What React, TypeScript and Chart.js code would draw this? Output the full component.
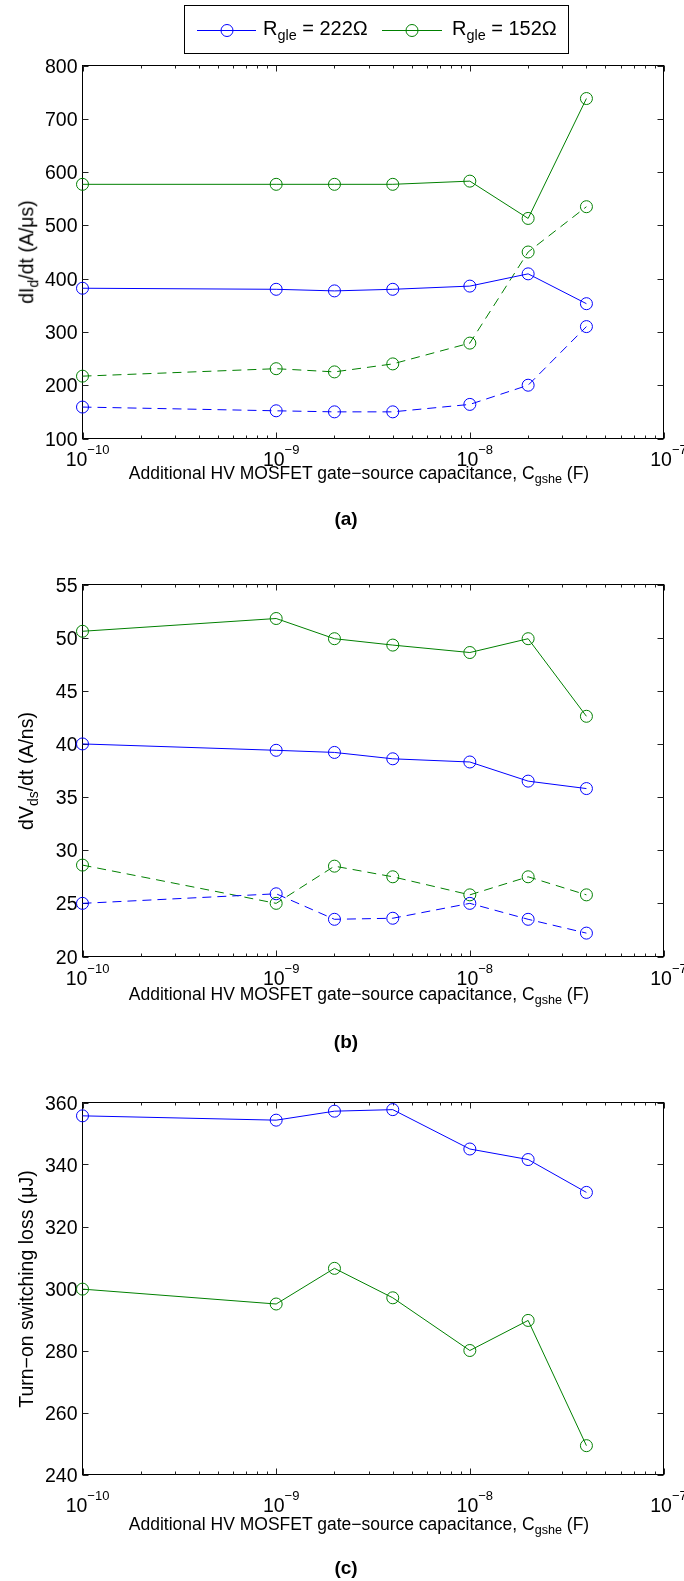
import React, { useEffect, useRef } from "react";
import { Chart, registerables } from "chart.js";

Chart.register(...registerables);

// ---------- data ----------
const capacitanceF = [1e-10, 1e-9, 2e-9, 4e-9, 1e-8, 2e-8, 4e-8];
const xTickExponents = [-10, -9, -8, -7];

const didt222Solid = [382, 380, 377, 380, 386, 409, 353];
const didt152Solid = [577, 577, 577, 577, 583, 513, 738];
const didt222Dashed = [159, 152, 150, 150, 164, 200, 310];
const didt152Dashed = [217, 231, 225, 240, 279, 450, 535];
const didtTicks = [100, 200, 300, 400, 500, 600, 700, 800];

const dvdt222Solid = [40.0, 39.4, 39.2, 38.6, 38.3, 36.5, 35.8];
const dvdt152Solid = [50.6, 51.8, 49.9, 49.3, 48.6, 49.9, 42.6];
const dvdt222Dashed = [25.0, 25.9, 23.5, 23.6, 25.0, 23.5, 22.2];
const dvdt152Dashed = [28.6, 25.0, 28.5, 27.5, 25.8, 27.5, 25.8];
const dvdtTicks = [20, 25, 30, 35, 40, 45, 50, 55];

const loss222 = [355.7, 354.3, 357.2, 357.7, 345.0, 341.6, 331.0];
const loss152 = [299.8, 295.0, 306.5, 297.0, 280.0, 289.7, 249.3];
const lossTicks = [240, 260, 280, 300, 320, 340, 360];

const legendLabels = ["222Ω", "152Ω"];

// ---------- styles ----------
const FONT = '"Liberation Sans", Arial, Helvetica, sans-serif';
const BLUE = "#0000ff";
const GREEN = "#008000";
const TICK_FONT = 19.5;
const PLOT_LEFT = 82.5;
const PLOT_RIGHT = 663.5;

type Series = { data: number[]; color: string; dashed: boolean };

function framePlugin(yTicks: number[], xLabelOffset: number) {
  return {
    id: "frame",
    beforeDatasetsDraw(chart: any) {
      const ctx = chart.ctx as CanvasRenderingContext2D;
      const { left, right, top, bottom } = chart.chartArea;
      const xs = chart.scales.x;
      const ys = chart.scales.y;
      ctx.save();
      ctx.strokeStyle = "#000";
      ctx.lineWidth = 1;
      ctx.setLineDash([]);
      ctx.strokeRect(left, top, right - left, bottom - top);
      ctx.strokeStyle = "#222";
      ctx.beginPath();
      for (const v of yTicks) {
        const y = Math.round(ys.getPixelForValue(v)) + 0.5;
        ctx.moveTo(left, y);
        ctx.lineTo(left + 6, y);
        ctx.moveTo(right, y);
        ctx.lineTo(right - 6, y);
      }
      for (const e of xTickExponents) {
        const x = Math.round(xs.getPixelForValue(Math.pow(10, e))) + 0.5;
        ctx.moveTo(x, bottom);
        ctx.lineTo(x, bottom - 6);
        ctx.moveTo(x, top);
        ctx.lineTo(x, top + 6);
        if (e < xTickExponents[xTickExponents.length - 1]) {
          for (let k = 2; k <= 9; k++) {
            const xm = Math.round(xs.getPixelForValue(k * Math.pow(10, e))) + 0.5;
            ctx.moveTo(xm, bottom);
            ctx.lineTo(xm, bottom - 3);
            ctx.moveTo(xm, top);
            ctx.lineTo(xm, top + 3);
          }
        }
      }
      ctx.stroke();

      ctx.fillStyle = "#000";
      ctx.font = `${TICK_FONT}px ${FONT}`;
      ctx.textAlign = "right";
      ctx.textBaseline = "alphabetic";
      for (const v of yTicks) {
        const y = ys.getPixelForValue(v);
        ctx.fillText(String(v), left - 5, y + 0.36 * TICK_FONT);
      }
      for (const e of xTickExponents) {
        const x = xs.getPixelForValue(Math.pow(10, e));
        ctx.font = `${TICK_FONT}px ${FONT}`;
        const wBase = ctx.measureText("10").width;
        ctx.font = `13px ${FONT}`;
        const sup = "\u2212" + String(-e);
        const wSup = ctx.measureText(sup).width;
        const x0 = x - (wBase + wSup) / 2 + 5;
        ctx.textAlign = "left";
        ctx.font = `${TICK_FONT}px ${FONT}`;
        ctx.fillText("10", x0, bottom + xLabelOffset);
        ctx.font = `13px ${FONT}`;
        ctx.fillText(sup, x0 + wBase, bottom + xLabelOffset - 11.5);
      }
      ctx.restore();
    },
  };
}

type PanelProps = {
  top: number;
  height: number;
  plotTop: number;
  plotBottom: number;
  series: Series[];
  yMin: number;
  yMax: number;
  yTicks: number[];
  xLabelOffset: number;
};

function Panel(p: PanelProps) {
  const ref = useRef<HTMLCanvasElement>(null);
  useEffect(() => {
    const chart = new Chart(ref.current as HTMLCanvasElement, {
      type: "line",
      data: {
        datasets: p.series.map((s) => ({
          data: capacitanceF.map((x, i) => ({ x, y: s.data[i] })),
          borderColor: s.color,
          borderWidth: 1,
          borderDash: s.dashed ? [9, 6] : [],
          pointStyle: "circle",
          pointRadius: 6,
          pointBorderWidth: 1,
          pointBorderColor: s.color,
          pointBackgroundColor: "rgba(0,0,0,0)",
          fill: false,
          tension: 0,
          clip: false as any,
        })),
      },
      options: {
        responsive: false,
        maintainAspectRatio: false,
        animation: false,
        devicePixelRatio: 1,
        events: [],
        layout: {
          padding: {
            left: PLOT_LEFT,
            right: 684 - PLOT_RIGHT,
            top: p.plotTop - p.top,
            bottom: p.top + p.height - p.plotBottom,
          },
        },
        plugins: { legend: { display: false }, tooltip: { enabled: false }, title: { display: false } },
        scales: {
          x: { type: "logarithmic", min: 1e-10, max: 1e-7, display: false },
          y: { type: "linear", min: p.yMin, max: p.yMax, display: false },
        },
      },
      plugins: [framePlugin(p.yTicks, p.xLabelOffset)],
    });
    return () => chart.destroy();
  }, []);
  return (
    <canvas
      ref={ref}
      width={684}
      height={p.height}
      style={{ position: "absolute", left: 0, top: p.top, width: 684, height: p.height }}
    />
  );
}

const subStyle: React.CSSProperties = { fontSize: "0.72em", position: "relative", top: "0.33em" };

function XTitle({ baseline }: { baseline: number }) {
  const F = 17.5;
  return (
    <div
      style={{
        position: "absolute",
        left: 359 - 320,
        width: 640,
        top: baseline - 0.8465 * F,
        fontSize: F,
        lineHeight: 1,
        textAlign: "center",
        whiteSpace: "nowrap",
        fontFamily: FONT,
      }}
    >
      Additional HV MOSFET gate−source capacitance, C<span style={subStyle}>gshe</span> (F)
    </div>
  );
}

function PanelLabel({ baseline, text }: { baseline: number; text: string }) {
  const F = 19;
  return (
    <div
      style={{
        position: "absolute",
        left: 346 - 50,
        width: 100,
        top: baseline - 0.8465 * F,
        fontSize: F,
        lineHeight: 1,
        fontWeight: "bold",
        textAlign: "center",
        fontFamily: FONT,
      }}
    >
      {text}
    </div>
  );
}

function YTitle({ cy, children }: { cy: number; children: React.ReactNode }) {
  const F = 19.5;
  return (
    <div
      style={{
        position: "absolute",
        left: 34 - 0.3465 * F,
        top: cy,
        fontSize: F,
        lineHeight: 1,
        whiteSpace: "nowrap",
        fontFamily: FONT,
        transform: "translate(-50%, -50%) rotate(-90deg)",
      }}
    >
      {children}
    </div>
  );
}

function Legend() {
  const F = 20;
  const textStyle = (left: number): React.CSSProperties => ({
    position: "absolute",
    left,
    top: 35 - 0.8465 * F,
    fontSize: F,
    lineHeight: 1,
    whiteSpace: "nowrap",
    fontFamily: FONT,
  });
  return (
    <>
      <div
        style={{
          position: "absolute",
          left: 184,
          top: 5,
          width: 383,
          height: 47,
          border: "1px solid #000",
          background: "#fff",
        }}
      />
      <svg width={684} height={60} style={{ position: "absolute", left: 0, top: 0 }}>
        <line x1={197} y1={30.5} x2={256} y2={30.5} stroke={BLUE} strokeWidth={1} />
        <circle cx={227} cy={30.5} r={6} fill="none" stroke={BLUE} strokeWidth={1} />
        <line x1={382} y1={30.5} x2={442} y2={30.5} stroke={GREEN} strokeWidth={1} />
        <circle cx={412} cy={30.5} r={6} fill="none" stroke={GREEN} strokeWidth={1} />
      </svg>
      <div style={textStyle(263)}>
        R<span style={subStyle}>gle</span> = {legendLabels[0]}
      </div>
      <div style={textStyle(452)}>
        R<span style={subStyle}>gle</span> = {legendLabels[1]}
      </div>
    </>
  );
}

export default function App() {
  const panels = [
    {
      top: 55,
      height: 490,
      plotTop: 65.5,
      plotBottom: 438.5,
      yMin: 100,
      yMax: 800,
      yTicks: didtTicks,
      xLabelOffset: 27,
      series: [
        { data: didt222Solid, color: BLUE, dashed: false },
        { data: didt152Solid, color: GREEN, dashed: false },
        { data: didt222Dashed, color: BLUE, dashed: true },
        { data: didt152Dashed, color: GREEN, dashed: true },
      ],
    },
    {
      top: 545,
      height: 520,
      plotTop: 584.5,
      plotBottom: 956.5,
      yMin: 20,
      yMax: 55,
      yTicks: dvdtTicks,
      xLabelOffset: 28,
      series: [
        { data: dvdt222Solid, color: BLUE, dashed: false },
        { data: dvdt152Solid, color: GREEN, dashed: false },
        { data: dvdt222Dashed, color: BLUE, dashed: true },
        { data: dvdt152Dashed, color: GREEN, dashed: true },
      ],
    },
    {
      top: 1065,
      height: 516,
      plotTop: 1102.5,
      plotBottom: 1474.5,
      yMin: 240,
      yMax: 360,
      yTicks: lossTicks,
      xLabelOffset: 37,
      series: [
        { data: loss222, color: BLUE, dashed: false },
        { data: loss152, color: GREEN, dashed: false },
      ],
    },
  ];
  return (
    <div
      style={{
        position: "absolute",
        left: 0,
        top: 0,
        width: 684,
        height: 1581,
        background: "#fff",
        overflow: "hidden",
        color: "#000",
      }}
    >
      {panels.map((p, i) => (
        <Panel key={i} {...p} />
      ))}
      <Legend />
      <YTitle cy={252}>
        dI<span style={subStyle}>d</span>/dt (A/μs)
      </YTitle>
      <YTitle cy={770.5}>
        dV<span style={subStyle}>ds</span>/dt (A/ns)
      </YTitle>
      <YTitle cy={1288.5}>Turn−on switching loss (μJ)</YTitle>
      <XTitle baseline={479.5} />
      <XTitle baseline={1000.5} />
      <XTitle baseline={1531} />
      <PanelLabel baseline={525} text="(a)" />
      <PanelLabel baseline={1048} text="(b)" />
      <PanelLabel baseline={1574} text="(c)" />
    </div>
  );
}
